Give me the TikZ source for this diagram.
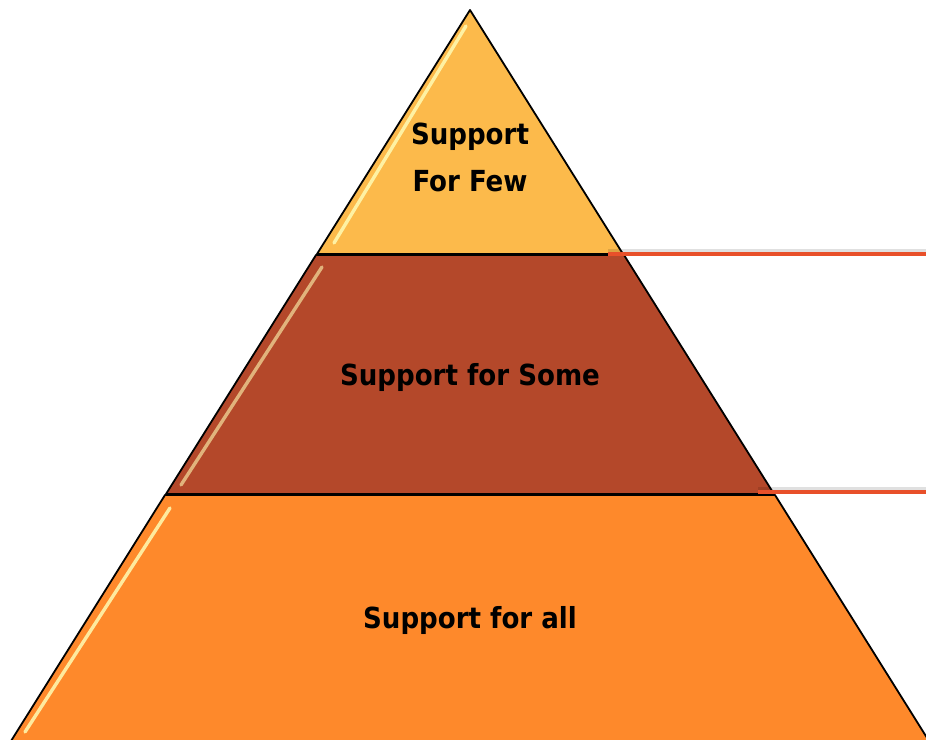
\documentclass[tikz,border=0pt]{standalone}
\usepackage{fontspec}
\setmainfont{DejaVu Sans Condensed}
\usepackage{tikz}

\begin{document}
\begin{tikzpicture}
		[x=1pt,y=-1pt,line join=round,
		%Styles
		tier/.style={draw=black,line width=1.8pt},
		shine/.style={line width=3.4pt,line cap=round,draw=yellow!30!white,opacity=.85},
		tier text/.style={font=\bfseries\fontsize{29}{47}\selectfont,align=center,text=black},
		marker line/.style={line width=4.4pt,draw=markercolor},
		marker shadow/.style={line width=3.5pt,draw=black,opacity=.12}
		]
		
		%Colors
		\definecolor{fewcolor}{HTML}{FCBA4B}
		\definecolor{somecolor}{HTML}{B4482A}
		\definecolor{allcolor}{HTML}{FE892B}
		\definecolor{markercolor}{HTML}{E8502A}
		
		\useasboundingbox (0,0) rectangle (926,739);
		
		%The graphic
		\filldraw[tier,fill=fewcolor] (470,10) -- (623,254) -- (317,254) -- cycle;
		\filldraw[tier,fill=somecolor] (316,255) -- (624,255) -- (774,494) -- (166,494) -- cycle;
		\filldraw[tier,fill=allcolor] (165,495) -- (775,495) -- (929,741) -- (11,741) -- cycle;
		
		%Gloss on the left faces
		\draw[shine] (466,26) -- (334,243);
		\draw[shine,opacity=.6] (322,267) -- (181,485);
		\draw[shine] (170,508) -- (25,732);
		
		\node[tier text] (few) at (470,157) {Support\\For Few};
		\node[tier text] (some) at (470,377) {Support for Some};
		\node[tier text] (all) at (470,620) {Support for all};
		
		\coordinate (few end) at (608,254);
		\coordinate (few out) at (926,254);
		\coordinate (some end) at (758,492);
		\coordinate (some out) at (926,492);
		
		\draw[marker shadow] ([yshift=3.5pt]few end) -- ([yshift=3.5pt]few out);
		\draw[marker shadow] ([yshift=3.5pt]some end) -- ([yshift=3.5pt]some out);
		\draw[marker line] (few end) -- (few out);
		\draw[marker line] (some end) -- (some out);
	\end{tikzpicture}
\end{document}
